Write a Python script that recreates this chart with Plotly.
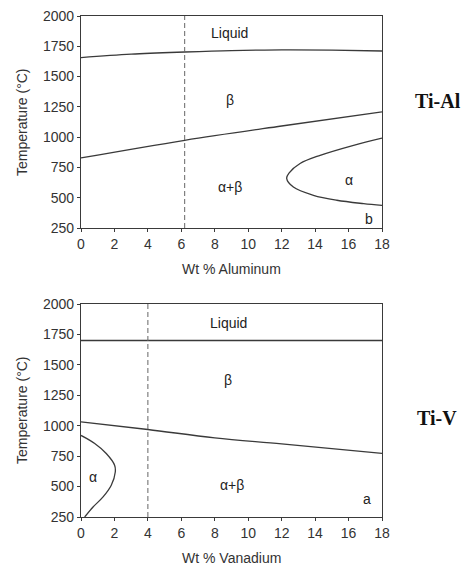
import plotly.graph_objects as go

# ---------------- data ----------------
# Ti-Al (top panel)
al_liq_x = [0, 3, 6.2, 9, 12, 15, 18]
al_liq_T = [1657, 1685, 1703, 1715, 1720, 1718, 1711]
al_transus_x = [0, 6.2, 12, 18]
al_transus_T = [828, 974, 1092, 1208]
al_alpha_x = [18, 16.3, 14.3, 13.1, 12.45, 12.3, 12.7, 13.9, 15.3, 16.9, 18]
al_alpha_T = [992, 933, 850, 782, 705, 660, 588, 520, 479, 451, 436]
al_dash_x = 6.2

# Ti-V (bottom panel)
v_liq_x = [0, 18]
v_liq_T = [1700, 1700]
v_transus_x = [0, 4, 8, 12, 18]
v_transus_T = [1032, 969, 900, 850, 772]
v_alpha_x = [0, 0.82, 1.51, 2.01, 2.05, 1.81, 1.32, 0.72, 0.22]
v_alpha_T = [920, 854, 772, 676, 620, 511, 415, 332, 250]
v_dash_x = 4

x_ticks = [0, 2, 4, 6, 8, 10, 12, 14, 16, 18]
y_ticks = [250, 500, 750, 1000, 1250, 1500, 1750, 2000]

al_labels = [("Liquid", 8.9, 1857), ("β", 8.9, 1304), ("α+β", 8.9, 589), ("α", 16.0, 644), ("b", 17.2, 328)]
v_labels = [("Liquid", 8.8, 1846), ("β", 8.8, 1375), ("α+β", 9.0, 511), ("α", 0.7, 579), ("a", 17.1, 401)]

# ---------------- figure ----------------
W, H = 475, 567
LINE = "#3a3a3a"
FONT = "Liberation Sans, Arial, sans-serif"

fig = go.Figure()

def add_panel(xa, ya, liq_x, liq_T, tr_x, tr_T, al_x, al_T, dash_x):
    kw = dict(xaxis=xa, yaxis=ya, mode="lines", showlegend=False, hoverinfo="skip")
    fig.add_trace(go.Scatter(x=liq_x, y=liq_T, line=dict(color=LINE, width=1.3, shape="spline"), **kw))
    fig.add_trace(go.Scatter(x=tr_x, y=tr_T, line=dict(color=LINE, width=1.3, shape="spline"), **kw))
    fig.add_trace(go.Scatter(x=al_x, y=al_T, line=dict(color=LINE, width=1.3, shape="spline", smoothing=1.0), **kw))
    fig.add_trace(go.Scatter(x=[dash_x, dash_x], y=[250, 2000],
                             line=dict(color="#666", width=1, dash="5px,3px"), **kw))

add_panel("x", "y", al_liq_x, al_liq_T, al_transus_x, al_transus_T, al_alpha_x, al_alpha_T, al_dash_x)
add_panel("x2", "y2", v_liq_x, v_liq_T, v_transus_x, v_transus_T, v_alpha_x, v_alpha_T, v_dash_x)

def px_x(p):
    return p / W

def px_y(p):
    return 1 - p / H

axis_common = dict(showgrid=False, zeroline=False, showline=True, linecolor=LINE, linewidth=1.3,
                   mirror=True, ticks="outside", ticklen=3, tickcolor=LINE, automargin=False,
                   tickfont=dict(family=FONT, size=14, color="#333"))

fig.update_layout(
    width=W, height=H, margin=dict(l=0, r=0, t=0, b=0, pad=0, autoexpand=False),
    paper_bgcolor="white", plot_bgcolor="white",
    xaxis=dict(domain=[px_x(81), px_x(382)], range=[0, 18], tickvals=x_ticks, anchor="y", **axis_common),
    yaxis=dict(domain=[px_y(228), px_y(16)], range=[250, 2000], tickvals=y_ticks, anchor="x", **axis_common),
    xaxis2=dict(domain=[px_x(81), px_x(382)], range=[0, 18], tickvals=x_ticks, anchor="y2", **axis_common),
    yaxis2=dict(domain=[px_y(517), px_y(304)], range=[250, 2000], tickvals=y_ticks, anchor="x2", **axis_common),
)

C = dict(xanchor="center", yanchor="middle", showarrow=False)
ann = []
for (t, x, y) in al_labels:
    ann.append(dict(text=t, x=x, y=y, xref="x", yref="y",
                    font=dict(family=FONT, size=14, color="#222"), **C))
for (t, x, y) in v_labels:
    ann.append(dict(text=t, x=x, y=y, xref="x2", yref="y2",
                    font=dict(family=FONT, size=14, color="#222"), **C))

title_font = dict(family=FONT, size=14, color="#333")
serif = dict(family="Liberation Serif, Times New Roman, serif", size=20, color="#111")
ann += [
    dict(text="Temperature (°C)", x=px_x(22), y=px_y(122), xref="paper", yref="paper",
         textangle=-90, font=title_font, **C),
    dict(text="Temperature (°C)", x=px_x(22), y=px_y(410), xref="paper", yref="paper",
         textangle=-90, font=title_font, **C),
    dict(text="Wt % Aluminum", x=px_x(231), y=px_y(269), xref="paper", yref="paper", font=title_font, **C),
    dict(text="Wt % Vanadium", x=px_x(231), y=px_y(558), xref="paper", yref="paper", font=title_font, **C),
    dict(text="<b>Ti-Al</b>", x=px_x(438), y=px_y(101), xref="paper", yref="paper", font=serif, **C),
    dict(text="<b>Ti-V</b>", x=px_x(437), y=px_y(418), xref="paper", yref="paper", font=serif, **C),
]
fig.update_layout(annotations=ann)

fig.write_html("out.html")
